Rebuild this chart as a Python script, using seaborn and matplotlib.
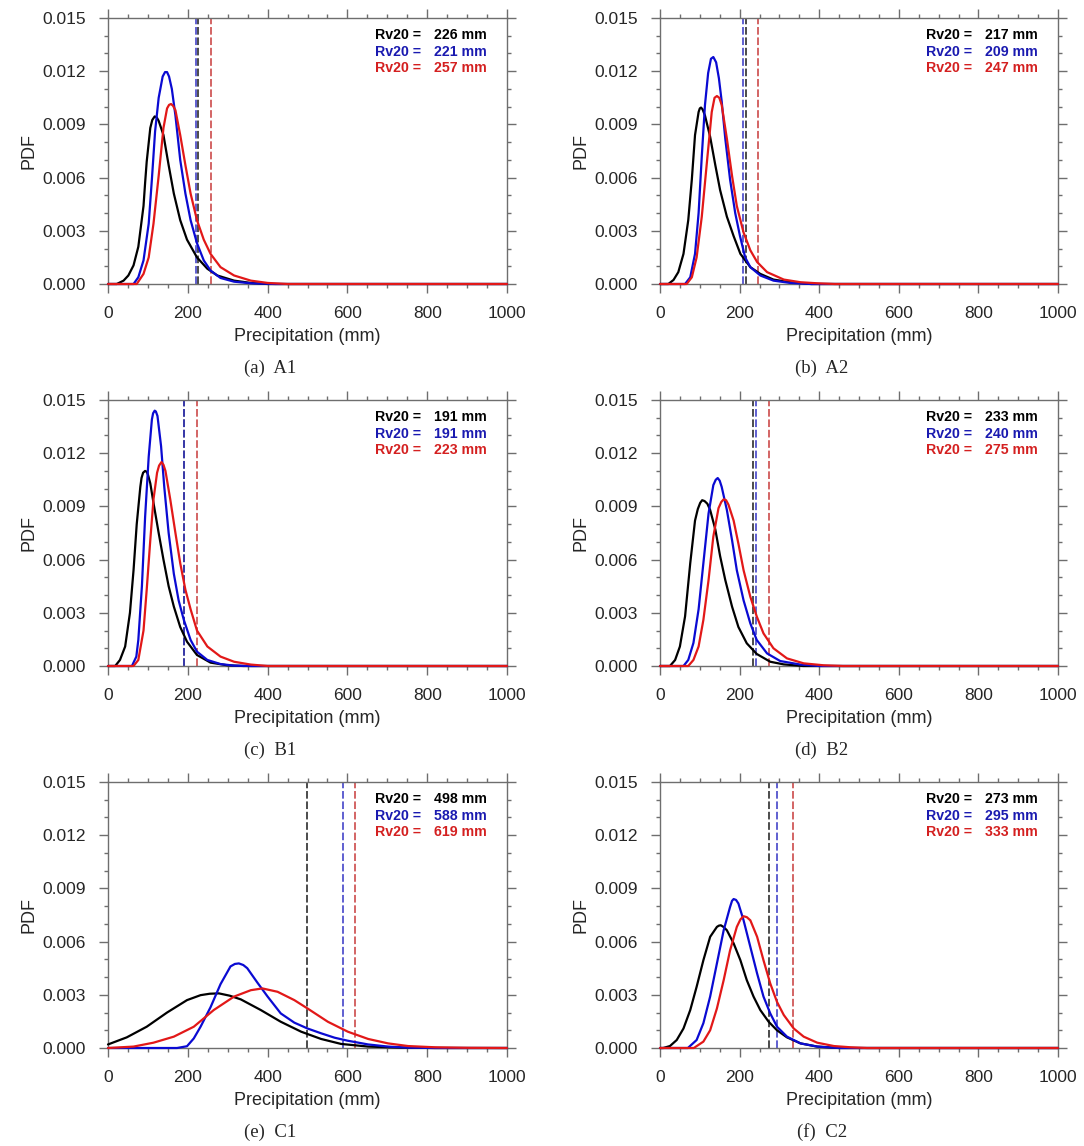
import matplotlib
matplotlib.use("Agg")
import matplotlib.pyplot as plt
import seaborn as sns
import numpy as np
from matplotlib.ticker import MultipleLocator, FormatStrFormatter

sns.set_style("ticks")
plt.rcParams['font.family'] = ['Liberation Sans', 'DejaVu Sans']

# ---------------- data (PDF values in units of 1e-3) ----------------
panels = ["(a)  A1", "(b)  A2", "(c)  B1", "(d)  B2", "(e)  C1", "(f)  C2"]
rv20_black = [226, 217, 191, 233, 498, 273]
rv20_blue = [221, 209, 191, 240, 588, 295]
rv20_red = [257, 247, 223, 275, 619, 333]

# Panel (a) A1
a_black_x = [0, 22, 39, 51, 64, 76, 89, 93, 97, 106, 111, 117, 122, 127, 139, 152, 165, 181, 198, 223, 249, 274, 316, 358, 400, 1000]
a_black_y = [0, 0, 0.19, 0.48, 1.05, 2.1, 4.4, 5.7, 6.9, 8.8, 9.25, 9.45, 9.4, 9.2, 8.4, 6.7, 5.1, 3.6, 2.5, 1.5, 0.86, 0.48, 0.19, 0.06, 0, 0]
a_blue_x = [0, 64, 76, 89, 102, 110, 118, 127, 137, 143, 148, 153, 160, 169, 181, 194, 207, 223, 240, 257, 282, 316, 358, 420, 1000]
a_blue_y = [0, 0, 0.38, 1.33, 3.4, 5.9, 8.6, 10.5, 11.7, 11.95, 11.95, 11.7, 11.0, 9.5, 7.0, 5.1, 3.6, 2.3, 1.33, 0.76, 0.34, 0.13, 0.04, 0, 0]
a_red_x = [0, 72, 89, 102, 114, 127, 139, 148, 153, 158, 163, 169, 181, 194, 207, 223, 240, 257, 282, 316, 358, 400, 450, 1000]
a_red_y = [0, 0, 0.57, 1.5, 3.4, 6.1, 8.8, 9.9, 10.1, 10.15, 10.05, 9.8, 8.4, 6.7, 5.1, 3.6, 2.5, 1.7, 0.95, 0.48, 0.19, 0.06, 0, 0]

# Panel (b) A2
b_black_x = [0, 21, 34, 46, 59, 71, 80, 88, 97, 100, 103, 107, 113, 126, 139, 151, 168, 185, 202, 227, 252, 285, 327, 380, 1000]
b_black_y = [0, 0, 0.23, 0.67, 1.7, 3.6, 5.9, 8.4, 9.7, 9.9, 9.95, 9.85, 9.5, 8.3, 6.7, 5.3, 3.8, 2.7, 1.7, 0.95, 0.57, 0.25, 0.1, 0, 0]
b_blue_x = [0, 63, 76, 88, 97, 105, 113, 121, 128, 134, 141, 148, 155, 164, 176, 189, 201, 214, 227, 252, 285, 327, 380, 1000]
b_blue_y = [0, 0, 0.38, 1.7, 4.0, 7.2, 10.1, 11.9, 12.7, 12.8, 12.5, 11.6, 10.3, 8.2, 5.9, 4.0, 2.7, 1.5, 0.95, 0.48, 0.19, 0.06, 0, 0]
b_red_x = [0, 67, 80, 92, 105, 118, 130, 137, 143, 149, 155, 168, 181, 193, 210, 227, 244, 269, 311, 353, 395, 440, 1000]
b_red_y = [0, 0, 0.38, 1.5, 3.8, 6.9, 9.7, 10.5, 10.6, 10.5, 10.1, 8.2, 6.1, 4.4, 2.9, 1.9, 1.24, 0.67, 0.25, 0.1, 0.04, 0, 0]

# Panel (c) B1
c_black_x = [0, 18, 30, 43, 55, 64, 72, 81, 84, 88, 93, 97, 100, 106, 114, 127, 139, 152, 165, 181, 198, 223, 257, 299, 340, 1000]
c_black_y = [0, 0, 0.34, 1.1, 3.0, 5.4, 8.0, 10.1, 10.6, 10.9, 11.0, 10.95, 10.8, 10.3, 9.2, 7.5, 6.0, 4.5, 3.35, 2.2, 1.37, 0.62, 0.19, 0.04, 0, 0]
c_blue_x = [0, 60, 71, 76, 85, 93, 102, 110, 113, 117, 120, 124, 133, 141, 152, 165, 177, 190, 207, 223, 249, 282, 316, 360, 1000]
c_blue_y = [0, 0, 0.53, 1.47, 4.5, 8.4, 11.8, 13.9, 14.25, 14.4, 14.35, 14.1, 12.4, 10.1, 7.5, 5.2, 3.7, 2.6, 1.47, 0.81, 0.34, 0.11, 0.02, 0, 0]
c_red_x = [0, 64, 76, 89, 97, 106, 114, 123, 128, 134, 139, 144, 156, 169, 181, 194, 207, 223, 249, 282, 316, 358, 400, 1000]
c_red_y = [0, 0, 0.34, 2.0, 4.3, 7.1, 9.4, 10.9, 11.3, 11.5, 11.35, 11.0, 9.4, 7.5, 5.8, 4.3, 3.2, 2.0, 1.1, 0.53, 0.24, 0.08, 0, 0]

# Panel (d) B2
d_black_x = [0, 25, 38, 50, 63, 76, 88, 95, 101, 106, 112, 119, 126, 139, 151, 164, 181, 197, 218, 243, 277, 311, 360, 1000]
d_black_y = [0, 0, 0.34, 1.1, 2.8, 5.8, 8.2, 8.85, 9.2, 9.35, 9.3, 9.15, 8.8, 7.7, 6.2, 4.85, 3.35, 2.2, 1.28, 0.68, 0.24, 0.09, 0, 0]
d_blue_x = [0, 59, 71, 84, 97, 109, 122, 134, 140, 145, 150, 155, 168, 181, 193, 210, 227, 243, 269, 302, 353, 400, 1000]
d_blue_y = [0, 0, 0.34, 1.3, 3.2, 5.8, 8.6, 10.2, 10.5, 10.6, 10.45, 10.1, 8.8, 7.1, 5.4, 3.7, 2.4, 1.47, 0.71, 0.28, 0.08, 0, 0]
d_red_x = [0, 71, 84, 97, 109, 122, 134, 147, 154, 160, 166, 172, 185, 197, 210, 227, 243, 260, 285, 319, 361, 411, 460, 1000]
d_red_y = [0, 0, 0.34, 1.1, 2.6, 4.85, 7.3, 8.9, 9.25, 9.4, 9.35, 9.1, 8.2, 6.9, 5.4, 3.9, 2.8, 1.84, 1.0, 0.43, 0.15, 0.04, 0, 0]

# Panel (e) C1
e_black_x = [0, 47, 97, 148, 198, 232, 255, 278, 305, 333, 383, 433, 484, 534, 584, 652, 735, 820, 1000]
e_black_y = [0.2, 0.6, 1.2, 2.0, 2.7, 2.98, 3.06, 3.08, 2.95, 2.74, 2.14, 1.48, 0.92, 0.51, 0.23, 0.08, 0.02, 0, 0]
e_blue_x = [0, 173, 198, 215, 232, 257, 282, 307, 318, 328, 339, 349, 374, 400, 433, 467, 500, 534, 568, 601, 652, 702, 752, 820, 1000]
e_blue_y = [0, 0, 0.1, 0.54, 1.2, 2.3, 3.6, 4.6, 4.74, 4.77, 4.68, 4.5, 3.7, 2.9, 1.95, 1.43, 1.1, 0.83, 0.58, 0.41, 0.2, 0.08, 0.02, 0, 0]
e_red_x = [0, 64, 114, 165, 215, 265, 316, 358, 387, 425, 467, 500, 551, 601, 652, 702, 752, 820, 903, 1000]
e_red_y = [0, 0.08, 0.3, 0.64, 1.2, 2.14, 2.9, 3.26, 3.36, 3.17, 2.7, 2.23, 1.48, 0.92, 0.51, 0.26, 0.11, 0.04, 0.01, 0]

# Panel (f) C2
f_black_x = [0, 8, 25, 42, 59, 76, 92, 109, 126, 143, 148, 153, 160, 168, 185, 202, 218, 235, 252, 273, 294, 319, 353, 395, 450, 1000]
f_black_y = [0, 0, 0.11, 0.45, 1.1, 2.14, 3.45, 4.95, 6.27, 6.83, 6.9, 6.92, 6.82, 6.64, 5.9, 4.95, 3.83, 2.9, 2.14, 1.48, 1.0, 0.6, 0.26, 0.08, 0, 0]
f_blue_x = [0, 70, 92, 109, 126, 143, 160, 176, 181, 185, 191, 197, 210, 227, 244, 260, 277, 294, 319, 353, 395, 450, 1000]
f_blue_y = [0, 0, 0.45, 1.4, 2.9, 4.77, 6.64, 7.95, 8.3, 8.4, 8.35, 8.15, 7.2, 5.7, 4.2, 2.9, 1.95, 1.2, 0.64, 0.26, 0.08, 0, 0]
f_red_x = [0, 85, 109, 126, 143, 160, 176, 193, 202, 210, 218, 227, 244, 260, 277, 294, 311, 336, 361, 395, 437, 479, 520, 1000]
f_red_y = [0, 0, 0.36, 1.0, 2.23, 3.83, 5.5, 6.83, 7.25, 7.43, 7.38, 7.2, 6.27, 4.95, 3.64, 2.6, 1.86, 1.1, 0.64, 0.3, 0.11, 0.04, 0, 0]

curves = [
    [(a_black_x, a_black_y), (a_blue_x, a_blue_y), (a_red_x, a_red_y)],
    [(b_black_x, b_black_y), (b_blue_x, b_blue_y), (b_red_x, b_red_y)],
    [(c_black_x, c_black_y), (c_blue_x, c_blue_y), (c_red_x, c_red_y)],
    [(d_black_x, d_black_y), (d_blue_x, d_blue_y), (d_red_x, d_red_y)],
    [(e_black_x, e_black_y), (e_blue_x, e_blue_y), (e_red_x, e_red_y)],
    [(f_black_x, f_black_y), (f_blue_x, f_blue_y), (f_red_x, f_red_y)],
]

# ---------------- styling ----------------
line_colors = ["#000000", "#0a0ad2", "#e21818"]
dash_colors = ["#1a1a1a", "#3434c4", "#c83a3a"]
text_colors = ["#000000", "#1a1ab0", "#d42020"]
frame_color = "#6e6e6e"

W, H = 1084, 1146
fig = plt.figure(figsize=(W / 100, H / 100), dpi=100)

col_left = [108, 660]
col_width = [399, 398]
row_top = [18, 400, 782]
ax_h = 266
caption_y = [368, 750, 1132]
caption_x = [270, 822]

for i in range(6):
    r, c = divmod(i, 2)
    ax = fig.add_axes([col_left[c] / W, 1 - (row_top[r] + ax_h) / H,
                       col_width[c] / W, ax_h / H])
    for k, (xs, ys) in enumerate(curves[i]):
        sns.lineplot(x=np.array(xs, float), y=np.array(ys, float) * 1e-3, ax=ax,
                     color=line_colors[k], lw=1.6, estimator=None, clip_on=False,
                     zorder=3 + k, solid_joinstyle="round", solid_capstyle="round")
    for k, v in enumerate([rv20_black[i], rv20_blue[i], rv20_red[i]]):
        ax.axvline(v, color=dash_colors[k], lw=1.1, ls=(0, (5, 1.8)), zorder=2 + k * 0.1)
    ax.set_xlim(0, 1000)
    ax.set_ylim(0, 0.015)
    ax.xaxis.set_major_locator(MultipleLocator(200))
    ax.xaxis.set_minor_locator(MultipleLocator(50))
    ax.yaxis.set_major_locator(MultipleLocator(0.003))
    ax.yaxis.set_minor_locator(MultipleLocator(0.001))
    ax.yaxis.set_major_formatter(FormatStrFormatter("%.3f"))
    ax.tick_params(which="both", direction="out", top=True, right=True,
                   color=frame_color, width=1.0)
    ax.tick_params(which="major", length=6.2, pad=9.5, labelsize=12.5)
    ax.tick_params(which="minor", length=3.1)
    for sp in ax.spines.values():
        sp.set_color(frame_color)
        sp.set_linewidth(1.0)
    ax.set_xlabel("Precipitation (mm)", fontsize=13, labelpad=5)
    ax.set_ylabel("PDF", fontsize=13, labelpad=4)
    labels = [rv20_black[i], rv20_blue[i], rv20_red[i]]
    for k, v in enumerate(labels):
        yy = 0.936 - 0.0627 * k
        ax.text(0.668, yy, "Rv20 =", transform=ax.transAxes, ha="left", va="center",
                fontsize=10.2, fontweight="bold", color=text_colors[k])
        ax.text(0.95, yy, f"{v} mm", transform=ax.transAxes, ha="right", va="center",
                fontsize=10.2, fontweight="bold", color=text_colors[k])
    fig.text(caption_x[c] / W, 1 - caption_y[r] / H, panels[i], ha="center", va="center",
             fontsize=13.5, family=["Liberation Serif", "DejaVu Serif"])

fig.savefig("out.png", dpi=100, facecolor="white")
